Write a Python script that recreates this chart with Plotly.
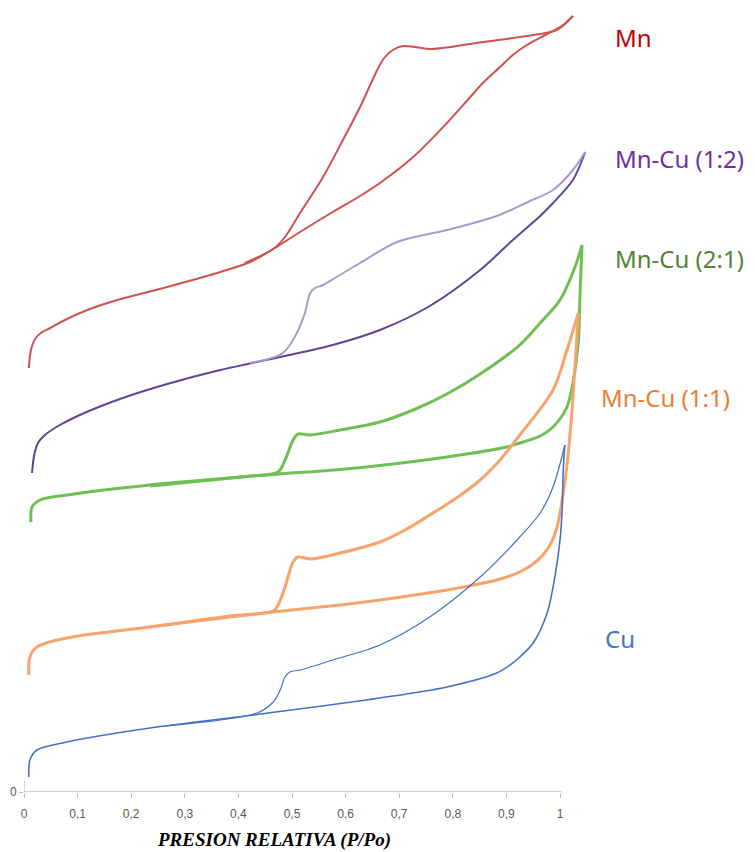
import plotly.graph_objects as go

# ---- Data (x = P/Po, y = adsorbed volume, arbitrary offset units) ----
mn_ads_x = [0.009, 0.011, 0.015, 0.022, 0.034, 0.049, 0.080, 0.123, 0.174, 0.267, 0.360, 0.422, 0.465, 0.515, 0.576, 0.627, 0.664, 0.726, 0.789, 0.826, 0.856, 0.888, 0.912, 0.938, 0.976, 1.006, 1.024]
mn_ads_y = [424, 436, 446, 454, 460, 464, 473, 483, 492, 505, 519, 530, 543, 560, 580, 596, 609, 635, 669, 691, 709, 725, 737, 747, 758, 767, 776]
mn_des_x = [1.024, 0.994, 0.950, 0.856, 0.761, 0.729, 0.707, 0.688, 0.672, 0.659, 0.627, 0.595, 0.558, 0.515, 0.487, 0.465, 0.412]
mn_des_y = [776, 762, 757, 750, 743, 745, 746, 742, 734, 722, 685, 652, 615, 579, 555, 543, 529]

mc12_ads_x = [0.015, 0.019, 0.026, 0.039, 0.067, 0.104, 0.179, 0.267, 0.366, 0.478, 0.576, 0.664, 0.757, 0.851, 0.912, 0.963, 0.987, 1.024, 1.047]
mc12_ads_y = [319, 337, 349, 357, 367, 377, 393, 408, 422, 435, 447, 462, 486, 522, 552, 576, 589, 612, 640]
mc12_des_x = [1.047, 1.024, 0.987, 0.944, 0.882, 0.789, 0.696, 0.627, 0.580, 0.558, 0.543, 0.534, 0.524, 0.509, 0.483, 0.422]
mc12_des_y = [640, 622, 602, 591, 576, 562, 550, 529, 514, 507, 504, 499, 479, 459, 439, 429]

mc21_ads_x = [0.013, 0.015, 0.030, 0.080, 0.235, 0.453, 0.590, 0.664, 0.789, 0.901, 0.925, 0.963, 0.987, 1.013, 1.024, 1.034, 1.037, 1.041]
mc21_ads_y = [270, 285, 292, 297, 307, 317, 322.5, 326.5, 335, 345, 349, 356, 365, 385, 409, 449, 492, 547]
mc21_des_x = [1.041, 1.028, 1.000, 0.963, 0.925, 0.851, 0.789, 0.726, 0.664, 0.590, 0.534, 0.511, 0.502, 0.487, 0.474, 0.422, 0.235]
mc21_des_y = [547, 525, 492, 469, 447, 418, 398, 382, 370, 362, 357, 358, 352, 332, 320, 316, 306]

mc11_ads_x = [0.009, 0.011, 0.024, 0.080, 0.235, 0.384, 0.465, 0.590, 0.664, 0.789, 0.882, 0.925, 0.957, 0.978, 0.993, 1.004, 1.013, 1.021, 1.026, 1.032, 1.034]
mc11_ads_y = [117, 135, 145, 154, 165, 175, 180, 187, 192, 202, 212, 220, 231, 244, 262, 292, 327, 372, 409, 459, 479]
mc11_des_x = [1.034, 1.013, 0.987, 0.925, 0.888, 0.851, 0.804, 0.757, 0.711, 0.664, 0.590, 0.534, 0.511, 0.502, 0.487, 0.474, 0.465, 0.384, 0.235]
mc11_des_y = [479, 442, 402, 357, 332, 312, 293, 277, 262, 250, 239, 233, 235, 230, 205, 187, 181, 176, 165]

cu_ads_x = [0.009, 0.011, 0.024, 0.080, 0.235, 0.427, 0.664, 0.789, 0.882, 0.907, 0.925, 0.950, 0.976, 0.991, 1.000, 1.004, 1.006, 1.009]
cu_ads_y = [15, 32, 42, 50, 64, 77, 94, 105, 119, 127, 135, 149, 179, 217, 252, 282, 322, 347]
cu_des_x = [1.009, 0.987, 0.963, 0.925, 0.851, 0.757, 0.664, 0.576, 0.515, 0.496, 0.487, 0.478, 0.465, 0.435, 0.263]
cu_des_y = [347, 305, 279, 255, 215, 175, 147, 132, 122, 120, 115, 102, 90, 79, 66]

x_tickvals = [0, 0.1, 0.2, 0.3, 0.4, 0.5, 0.6, 0.7, 0.8, 0.9, 1]
x_ticktext = ["0", "0,1", "0,2", "0,3", "0,4", "0,5", "0,6", "0,7", "0,8", "0,9", "1"]

labels = ["Mn", "Mn-Cu (1:2)", "Mn-Cu (2:1)", "Mn-Cu (1:1)", "Cu"]
label_colors = ["#C00000", "#7030A0", "#548235", "#ED7D31", "#4472C4"]
label_x = [1.099, 1.099, 1.099, 1.073, 1.080]
label_y = [755, 634, 534, 395, 154]

fig = go.Figure()

def add(x, y, color, width):
    fig.add_trace(go.Scatter(x=x, y=y, mode="lines",
                             line=dict(color=color, width=width, shape="spline", smoothing=0.9),
                             showlegend=False, hoverinfo="skip"))

add(mn_ads_x, mn_ads_y, "#D0524E", 2)
add(mn_des_x, mn_des_y, "#D0524E", 2)
add(mc12_ads_x, mc12_ads_y, "#5E4596", 2)
add(mc12_des_x, mc12_des_y, "#A89BCB", 2)
add(mc21_ads_x, mc21_ads_y, "#6FBF55", 3)
add(mc21_des_x, mc21_des_y, "#6FBF55", 3)
add(mc11_ads_x, mc11_ads_y, "#F7A46C", 3)
add(mc11_des_x, mc11_des_y, "#F7A46C", 3)
add(cu_ads_x, cu_ads_y, "#4472C4", 1.6)
add(cu_des_x, cu_des_y, "#4472C4", 1.2)

for t, c, lx, ly in zip(labels, label_colors, label_x, label_y):
    fig.add_annotation(x=lx, y=ly, xref="x", yref="y", text=t, showarrow=False,
                       xanchor="left", yanchor="middle",
                       font=dict(family="Noto Sans", size=24, color=c))

fig.add_annotation(x=0.466, y=-0.0606, xref="x", yref="paper",
                   text="<b><i>PRESION RELATIVA (P/Po)</i></b>", showarrow=False,
                   xanchor="center", yanchor="middle",
                   font=dict(family="Liberation Serif", size=19, color="#000000"))

# axis lines
fig.add_shape(type="line", xref="x", yref="y", x0=0, x1=1.003, y0=0, y1=0,
              line=dict(color="#BFBFBF", width=1.3))
fig.add_shape(type="line", xref="x", yref="y", x0=0, x1=0, y0=0, y1=12,
              line=dict(color="#BFBFBF", width=1.3))

fig.update_layout(
    width=755, height=852,
    margin=dict(l=24, r=0, t=0, b=60),
    paper_bgcolor="white", plot_bgcolor="white",
    xaxis=dict(range=[0, 1.3638], tickvals=x_tickvals, ticktext=x_ticktext,
               showgrid=False, zeroline=False, showline=False,
               ticks="outside", ticklen=5, tickcolor="#BFBFBF", tickwidth=1,
               ticklabelstandoff=6,
               tickfont=dict(family="Liberation Sans", size=12, color="#595959")),
    yaxis=dict(range=[0, 792], tickvals=[0], ticktext=["0"],
               showgrid=False, zeroline=False, showline=False,
               ticks="outside", ticklen=4, tickcolor="#BFBFBF",
               tickfont=dict(family="Liberation Sans", size=12, color="#595959")),
)

fig.write_html("out.html", config={"displayModeBar": False},
               post_script="document.body.style.margin='0';document.body.style.padding='0';")
